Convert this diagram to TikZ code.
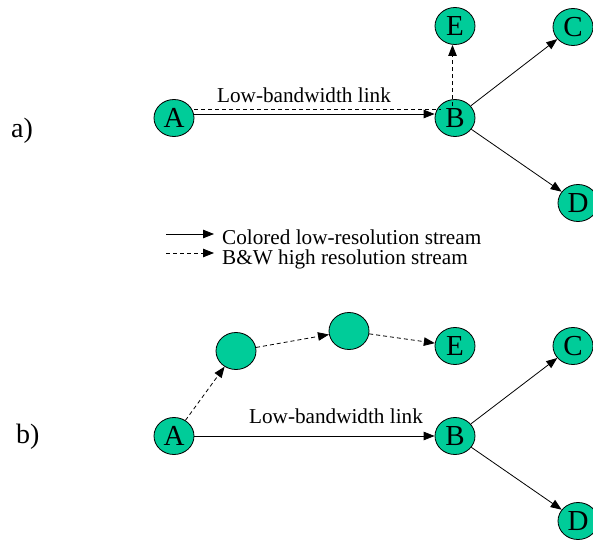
\documentclass[tikz,border=0pt]{standalone}
\usepackage{fontspec}
\setmainfont{Liberation Serif}
\usetikzlibrary{shapes.geometric,arrows.meta}
\definecolor{nodegreen}{RGB}{0,204,153}
\tikzset{
  nd/.style={ellipse,draw=black,line width=0.8pt,fill=nodegreen,minimum width=40pt,minimum height=37pt,inner sep=0pt,font=\fontsize{29}{29}\selectfont},
  arr/.style={-{Triangle[length=11pt,width=8.5pt]}},
  sl/.style={line width=0.8pt},
  dsh/.style={line width=0.8pt,dash pattern=on 4pt off 3pt},
  lbl/.style={font=\fontsize{21.2}{24}\selectfont,inner sep=0pt,anchor=base},
  leg/.style={font=\fontsize{21.2}{24}\selectfont,inner sep=0pt,anchor=base west},
  part/.style={font=\fontsize{28}{30}\selectfont,inner sep=0pt,anchor=base west}
}
\begin{document}
\begin{tikzpicture}[x=1pt,y=-1pt]
\useasboundingbox (0,0) rectangle (593,540);
% part a
\node[part] (pa) at (11,138) {a)};
\node[nd] (A1) at (174,118) {A};
\node[nd] (B1) at (455,118) {B};
\node[nd] (E1) at (455,26) {E};
\node[nd] (C1) at (573,27) {C};
\node[nd] (D1) at (578,203) {D};
\node[lbl] (L1) at (304,103) {Low-bandwidth link};
\draw[sl,arr] ([yshift=4pt]A1.east) -- ([yshift=4pt]B1.west);
\draw[dsh] ([yshift=9pt]A1.east) -- ([yshift=9pt,xshift=6pt]B1.west);
\draw[dsh,arr] ([xshift=-2.5pt,yshift=-7pt]B1.north) -- ([xshift=-2.5pt]E1.south);
\draw[sl,arr] (B1) -- (C1);
\draw[sl,arr] (B1) -- (D1);
% legend
\coordinate (s1) at (166,234);
\coordinate (e1) at (214,234);
\coordinate (s2) at (166,253);
\coordinate (e2) at (214,253);
\draw[sl,arr] (s1) -- (e1);
\draw[dsh,arr] (s2) -- (e2);
\node[leg] (T1) at (222,244) {Colored low-resolution stream};
\node[leg] (T2) at (222,264) {B\&W high resolution stream};
% part b
\node[part] (pb) at (16,443) {b)};
\node[nd] (A2) at (174,436) {A};
\node[nd] (U1) at (236,351) {};
\node[nd] (U2) at (349,331) {};
\node[nd] (E2) at (455,346) {E};
\node[nd] (B2) at (455,436) {B};
\node[nd] (C2) at (573,346) {C};
\node[nd] (D2) at (578,521) {D};
\node[lbl] (L2) at (336,423) {Low-bandwidth link};
\draw[dsh,arr] (A2) -- (U1);
\draw[dsh,arr] (U1) -- (U2);
\draw[dsh,arr] (U2) -- (E2);
\draw[sl,arr] (A2) -- (B2);
\draw[sl,arr] (B2) -- (C2);
\draw[sl,arr] (B2) -- (D2);
\end{tikzpicture}
\end{document}
